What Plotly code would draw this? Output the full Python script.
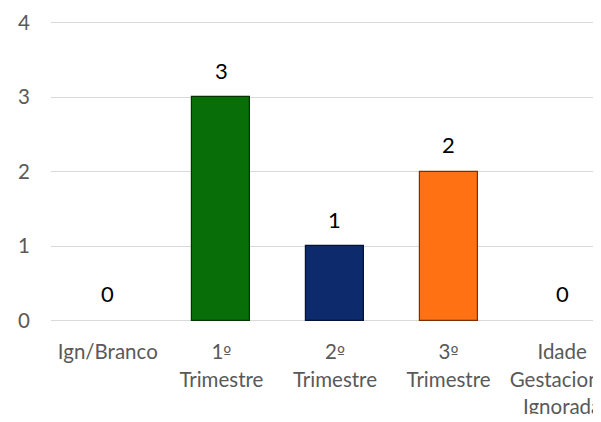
import plotly.graph_objects as go

O = "<span style='font-family:DejaVu Sans;font-size:17px'>º</span>"
categories = ["Ign/Branco", "1º Trimestre", "2º Trimestre", "3º Trimestre",
              "Idade Gestacional Ignorada"]
label_line1 = ["Ign/Branco", "1" + O, "2" + O, "3" + O, "Idade"]
label_line2 = ["", "Trimestre", "Trimestre", "Trimestre", "Gestacional"]
label_line3 = ["", "", "", "", "Ignorada"]
values = [0, 3, 1, 2, 0]
bar_colors = ["#7f7f7f", "#086e08", "#0c2a6c", "#ff7112", "#7f7f7f"]
line_colors = ["#555555", "#023302", "#031335", "#7a3000", "#555555"]
y_ticks = [0, 1, 2, 3, 4]

FONT = "Lato, sans-serif"
TICKFONT = dict(family=FONT, size=20.5, color="#595959")
x_idx = list(range(len(categories)))
XRANGE = [-0.5, 4.342]

fig = go.Figure()
fig.add_trace(go.Bar(
    x=x_idx, y=values, width=0.51,
    marker=dict(color=bar_colors,
                line=dict(color=line_colors, width=[1.2 if v > 0 else 0 for v in values])),
    hoverinfo="skip",
))
# invisible traces to activate the overlaying label axes
fig.add_trace(go.Scatter(x=x_idx, y=values, xaxis="x2", mode="markers",
                         marker=dict(opacity=0), hoverinfo="skip"))
fig.add_trace(go.Scatter(x=x_idx, y=values, xaxis="x3", mode="markers",
                         marker=dict(opacity=0), hoverinfo="skip"))

for xi, v in zip(x_idx, values):
    fig.add_annotation(x=xi, y=v, text=str(v), showarrow=False, yshift=27,
                       font=dict(family=FONT, size=22, color="#000000"))

axis_common = dict(range=XRANGE, tickmode="array", tickvals=x_idx,
                   showgrid=False, zeroline=False, showline=False, ticks="",
                   tickfont=TICKFONT, tickangle=0, automargin=False,
                   ticklabeloverflow="allow", fixedrange=True)

fig.update_layout(
    width=593, height=406,
    margin=dict(l=43, r=0, t=13, b=92),
    paper_bgcolor="white", plot_bgcolor="white",
    showlegend=False,
    font=dict(family=FONT, size=20.5, color="#595959"),
    bargap=0,
    xaxis=dict(ticktext=label_line1, ticklabelstandoff=15, **axis_common),
    xaxis2=dict(ticktext=label_line2, ticklabelstandoff=43, overlaying="x",
                side="bottom", anchor="y", **axis_common),
    xaxis3=dict(ticktext=label_line3, ticklabelstandoff=70, overlaying="x",
                side="bottom", anchor="y", **axis_common),
    yaxis=dict(range=[-0.02, 4.02], tickmode="array", tickvals=y_ticks,
               ticktext=[str(t) for t in y_ticks],
               showgrid=True, gridcolor="#d9d9d9", gridwidth=1, zeroline=False,
               showline=False, ticks="", ticklabelstandoff=20, automargin=False,
               tickfont=TICKFONT),
)

fig.write_html("out.html")
